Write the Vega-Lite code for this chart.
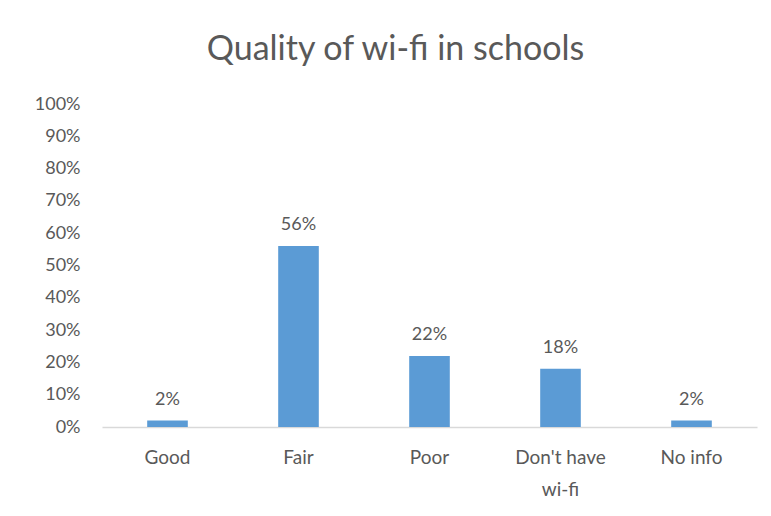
{
  "$schema": "https://vega.github.io/schema/vega-lite/v6.json",
  "autosize": "none",
  "width": 655,
  "height": 323,
  "padding": {"left": 102, "top": 104, "right": 14, "bottom": 89},
  "background": "white",
  "title": {
    "text": "Quality of wi-fi in schools",
    "font": "Lato",
    "fontSize": 34,
    "fontWeight": "normal",
    "color": "#595959",
    "anchor": "middle",
    "dx": -34,
    "offset": 28
  },
  "data": {
    "values": [
      {"category": "Good", "share": 0.02},
      {"category": "Fair", "share": 0.56},
      {"category": "Poor", "share": 0.22},
      {"category": "Don't have wi-fi", "share": 0.18},
      {"category": "No info", "share": 0.02}
    ]
  },
  "encoding": {
    "x": {
      "field": "category",
      "type": "nominal",
      "sort": null,
      "title": null,
      "scale": {"paddingInner": 0.69, "paddingOuter": 0.345},
      "axis": {
        "labelAngle": 0,
        "labelFont": "Lato",
        "labelFontSize": 19,
        "labelColor": "#595959",
        "labelPadding": 21,
        "labelLineHeight": 32,
        "ticks": false,
        "domainColor": "#D9D9D9",
        "domainWidth": 1.5,
        "labelExpr": "datum.value == \"Don't have wi-fi\" ? [\"Don't have\", \"wi-fi\"] : datum.label"
      }
    },
    "y": {
      "field": "share",
      "type": "quantitative",
      "title": null,
      "scale": {"domain": [0, 1]},
      "axis": {
        "format": ".0%",
        "values": [0, 0.1, 0.2, 0.3, 0.4, 0.5, 0.6, 0.7, 0.8, 0.9, 1.0],
        "labelFont": "Lato",
        "labelFontSize": 18,
        "labelColor": "#595959",
        "labelPadding": 22,
        "ticks": false,
        "domain": false,
        "grid": false
      }
    }
  },
  "layer": [
    {"mark": {"type": "bar", "color": "#5B9BD5"}},
    {
      "mark": {"type": "text", "baseline": "bottom", "dy": -12, "font": "Lato", "fontSize": 18, "color": "#595959"},
      "encoding": {"text": {"field": "share", "format": ".0%"}}
    }
  ],
  "config": {"view": {"stroke": null}}
}
